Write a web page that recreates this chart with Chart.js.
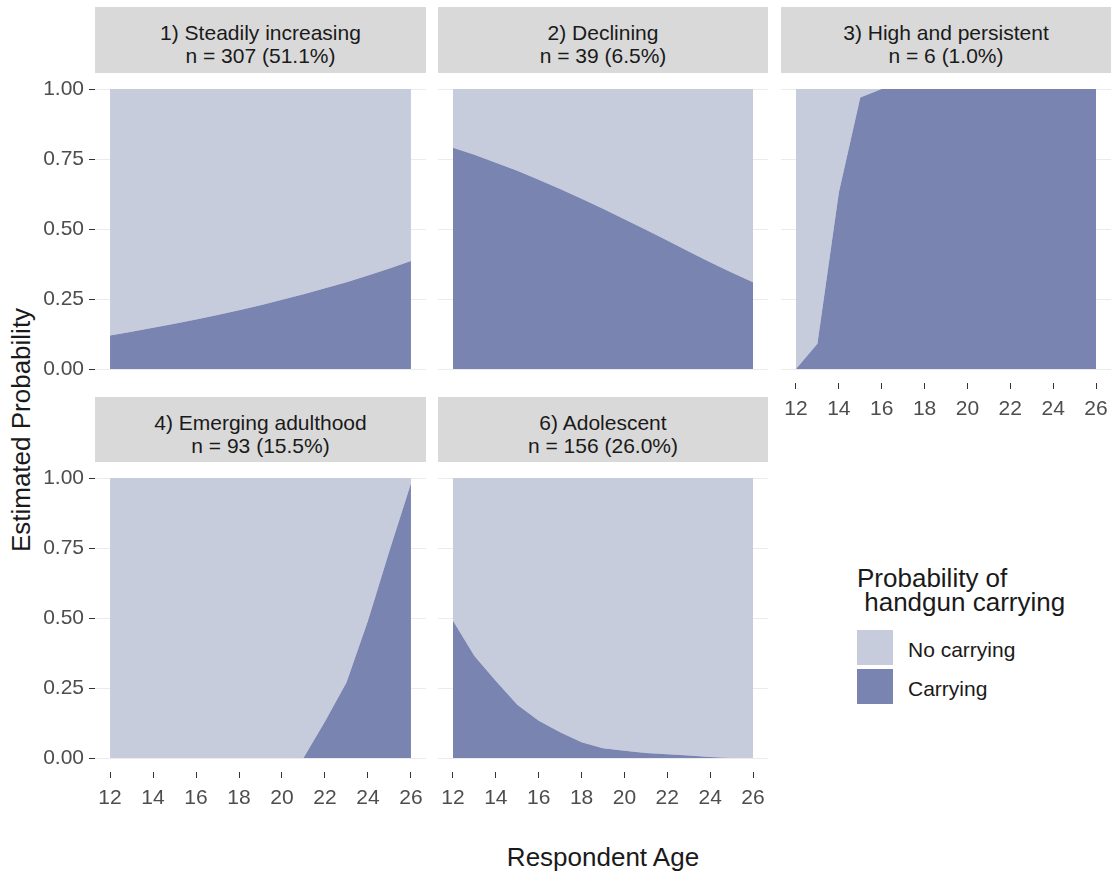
<!DOCTYPE html>
<html>
<head>
<meta charset="utf-8">
<title>Handgun carrying trajectories</title>
<script src="https://cdn.jsdelivr.net/npm/chart.js@4.4.0/dist/chart.umd.min.js"></script>
<style>
  body { margin: 0; background: #fff; width: 1111px; height: 873px; position: relative; overflow: hidden;
         font-family: "Liberation Sans", Arial, sans-serif; }
  .strip { position: absolute; background: #d9d9d9; color: #1a1a1a; font-size: 21px; line-height: 23px;
           text-align: center; box-sizing: border-box; padding-top: 14px; white-space: pre; }
  .panel { position: absolute; }
  .title { position: absolute; font-size: 26px; color: #1a1a1a; white-space: nowrap; }
  .key { position: absolute; width: 36px; height: 35px; }
  .lab { position: absolute; font-size: 21px; line-height: 23px; color: #1a1a1a; white-space: nowrap; }
</style>
</head>
<body>
<div class="title" id="yTitle" style="left:21px;top:430px;transform:translate(-50%,-50%) rotate(-90deg);">Estimated Probability</div>
<div class="title" style="left:603px;top:857px;transform:translate(-50%,-50%);">Respondent Age</div>

<div class="title" style="left:857px;top:566px;line-height:24px;white-space:pre;">Probability of
 handgun carrying</div>
<div class="key" style="left:857px;top:630px;background:#c6ccdc;"></div>
<div class="key" style="left:857px;top:669px;background:#7a84b0;"></div>
<div class="lab" style="left:908px;top:638px;">No carrying</div>
<div class="lab" style="left:908px;top:677px;">Carrying</div>

<script>
// --- dados ---
const ages = [12, 13, 14, 15, 16, 17, 18, 19, 20, 21, 22, 23, 24, 25, 26];
const xTicks = [12, 14, 16, 18, 20, 22, 24, 26];
const yTicks = [0, 0.25, 0.5, 0.75, 1];
const seriesNames = ['No carrying', 'Carrying'];

const panelTitles = ['1) Steadily increasing', '2) Declining', '3) High and persistent', '4) Emerging adulthood', '6) Adolescent'];
const panelCounts = ['n = 307 (51.1%)', 'n = 39 (6.5%)', 'n = 6 (1.0%)', 'n = 93 (15.5%)', 'n = 156 (26.0%)'];

// probabilidade estimada de "Carrying" por idade
const steadilyIncreasing = [0.12, 0.133, 0.147, 0.162, 0.177, 0.193, 0.21, 0.228, 0.247, 0.267, 0.288, 0.31, 0.334, 0.359, 0.386];
const declining = [0.79, 0.765, 0.737, 0.708, 0.676, 0.643, 0.608, 0.572, 0.535, 0.497, 0.459, 0.42, 0.381, 0.345, 0.31];
const highPersistent = [0, 0.09, 0.63, 0.97, 1, 1, 1, 1, 1, 1, 1, 1, 1, 1, 1];
const emergingAdulthood = [0, 0, 0, 0, 0, 0, 0, 0, 0, 0, 0.13, 0.27, 0.49, 0.74, 0.98];
const adolescent = [0.49, 0.364, 0.275, 0.19, 0.133, 0.092, 0.056, 0.035, 0.026, 0.018, 0.013, 0.009, 0.004, 0, 0];

const panelSeries = [steadilyIncreasing, declining, highPersistent, emergingAdulthood, adolescent];

// --- layout (px) ---
const COR_SEM = '#c6ccdc';
const COR_COM = '#7a84b0';
const cols = [{ left: 95, right: 426 }, { left: 438, right: 768 }, { left: 781, right: 1111 }];
const rows = [{ strip: 7, stripH: 66, top: 75, bottom: 383 }, { strip: 397, stripH: 65, top: 464, bottom: 772 }];
const grid = [
  { col: 0, row: 0, yAxis: true,  xAxis: false },
  { col: 1, row: 0, yAxis: false, xAxis: false },
  { col: 2, row: 0, yAxis: false, xAxis: true },
  { col: 0, row: 1, yAxis: true,  xAxis: true },
  { col: 1, row: 1, yAxis: false, xAxis: true }
];
const Y_AXIS_W = 80;
const X_AXIS_H = 45;

Chart.defaults.font.family = '"Liberation Sans", Arial, sans-serif';
Chart.defaults.animation = false;

function criarPainel(i) {
  const g = grid[i];
  const c = cols[g.col];
  const r = rows[g.row];

  // faixa do título
  const strip = document.createElement('div');
  strip.className = 'strip';
  strip.style.left = c.left + 'px';
  strip.style.top = r.strip + 'px';
  strip.style.width = (c.right - c.left) + 'px';
  strip.style.height = r.stripH + 'px';
  strip.textContent = panelTitles[i] + '\n' + panelCounts[i];
  document.body.appendChild(strip);

  const yW = g.yAxis ? Y_AXIS_W : 0;
  const xH = g.xAxis ? X_AXIS_H : 0;
  const w = c.right - c.left + yW;
  const h = r.bottom - r.top + xH;

  const box = document.createElement('div');
  box.className = 'panel';
  box.style.left = (c.left - yW) + 'px';
  box.style.top = r.top + 'px';
  box.style.width = w + 'px';
  box.style.height = h + 'px';
  const canvas = document.createElement('canvas');
  box.appendChild(canvas);
  document.body.appendChild(box);

  const com = panelSeries[i];
  const sem = com.map(v => 1 - v);

  new Chart(canvas, {
    type: 'line',
    data: {
      datasets: [
        { label: seriesNames[1], data: ages.map((a, k) => ({ x: a, y: com[k] })),
          backgroundColor: COR_COM, borderWidth: 0, pointRadius: 0, fill: 'origin', tension: 0 },
        { label: seriesNames[0], data: ages.map((a, k) => ({ x: a, y: sem[k] })),
          backgroundColor: COR_SEM, borderWidth: 0, pointRadius: 0, fill: '-1', tension: 0 }
      ]
    },
    options: {
      responsive: true,
      maintainAspectRatio: false,
      layout: { padding: 0 },
      plugins: { legend: { display: false }, tooltip: { enabled: false } },
      scales: {
        x: {
          type: 'linear', min: 11.3, max: 26.7,
          display: g.xAxis,
          afterBuildTicks: s => { s.ticks = xTicks.map(v => ({ value: v })); },
          afterFit: s => { s.height = xH; s.paddingLeft = 0; s.paddingRight = 0; },
          border: { display: false },
          grid: { drawOnChartArea: false, tickLength: 6, tickColor: '#333333', tickWidth: 1 },
          ticks: { color: '#4d4d4d', font: { size: 21 }, padding: 8, maxRotation: 0, autoSkip: false,
                   callback: v => String(v) }
        },
        y: {
          stacked: true, min: -0.05, max: 1.05,
          afterBuildTicks: s => { s.ticks = yTicks.map(v => ({ value: v })); },
          afterFit: s => { s.width = yW; s.paddingTop = 0; s.paddingBottom = 0; },
          border: { display: false },
          grid: { color: '#ebebeb', lineWidth: 1, drawTicks: g.yAxis, tickLength: 6, tickColor: '#333333' },
          ticks: { display: g.yAxis, color: '#4d4d4d', font: { size: 21 }, padding: 5,
                   callback: v => Number(v).toFixed(2) }
        }
      }
    }
  });
}

for (let i = 0; i < panelSeries.length; i++) criarPainel(i);
</script>
</body>
</html>
